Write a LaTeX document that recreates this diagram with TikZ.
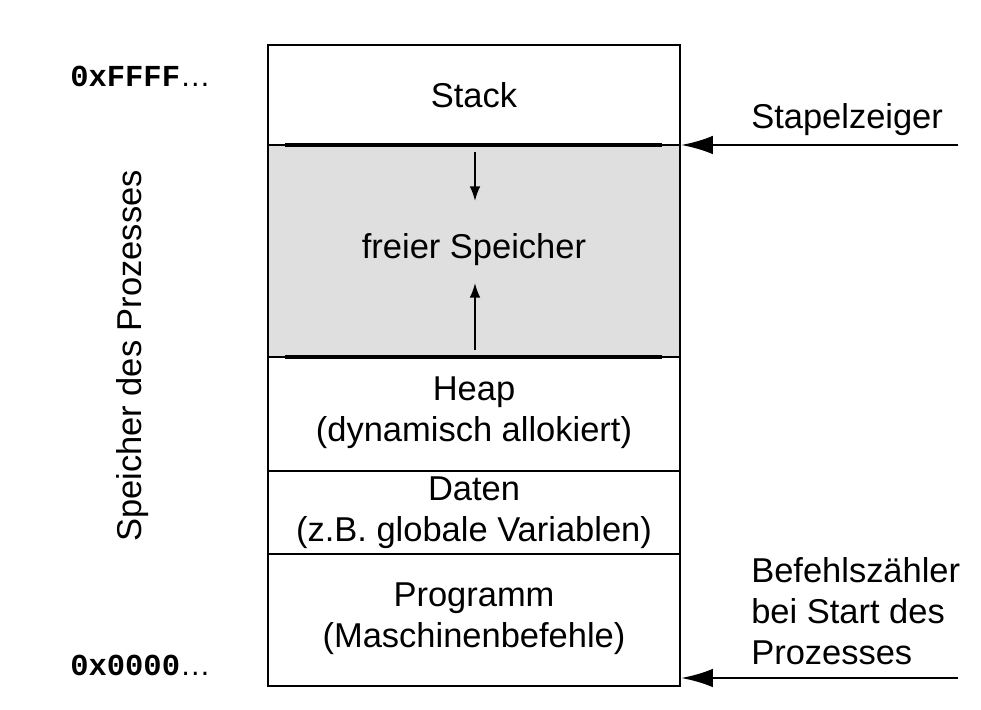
\documentclass[tikz,border=0pt]{standalone}
\usepackage{fontspec}
\usetikzlibrary{arrows.meta}
\setmainfont{Liberation Sans}
\setmonofont{Liberation Mono}
\begin{document}
\begin{tikzpicture}[x=0.0265cm,y=-0.0265cm,
  lbl/.style={font=\fontsize{26}{31}\selectfont, align=left, inner sep=0pt},
  ctr/.style={font=\fontsize{26}{31}\selectfont, align=center, inner sep=0pt},
  addr/.style={font=\fontsize{23}{27}\selectfont\ttfamily\bfseries, anchor=west, inner sep=0pt},
  thick line/.style={line width=3pt},
  arr/.style={-{Latex[length=24pt,width=14pt]}, line width=2.2pt},
  small arr/.style={-{Latex[length=11pt,width=8pt]}, line width=1.3pt}]
\useasboundingbox (0,0) rectangle (981,710);
\fill[gray!25] (268,145) rectangle (680,357);
\draw[line width=1.7pt] (268,45) rectangle (680,686);
\draw[line width=1.2pt] (268,145) -- (680,145);
\draw[line width=1.2pt] (268,357) -- (680,357);
\draw[line width=1.7pt] (268,471) -- (680,471);
\draw[line width=1.2pt] (268,554) -- (680,554);
\draw[thick line] (285,145) -- (662,145);
\draw[thick line] (285,357) -- (662,357);
\node[ctr] (stack) at (474,95) {Stack};
\node[ctr] (frei) at (474,250) {freier Speicher};
\coordinate (d1) at (475,152); \coordinate (d2) at (475,201);
\draw[small arr] (d1) -- (d2);
\coordinate (u1) at (475,350); \coordinate (u2) at (475,283);
\draw[small arr] (u1) -- (u2);
\node[ctr] (heap) at (474,413) {Heap\\(dynamisch allokiert)};
\node[ctr] (daten) at (474,513) {Daten\\(z.B. globale Variablen)};
\node[ctr] (prog) at (474,619) {Programm\\(Maschinenbefehle)};
\node[addr] (hi) at (70,76) {0xFFFF\textrm{\normalfont…}};
\node[addr] (lo) at (70,665) {0x0000\textrm{\normalfont…}};
\node[ctr, rotate=90] (sp) at (133,356) {Speicher des Prozesses};
\node[lbl, anchor=west] (sz) at (751,120) {Stapelzeiger};
\coordinate (s1) at (958,145); \coordinate (s2) at (681,145);
\draw[arr] (s1) -- (s2);
\node[lbl, anchor=west] (bz) at (751,611) {Befehlszähler\\bei Start des\\Prozesses};
\coordinate (b1) at (958,678); \coordinate (b2) at (681,678);
\draw[arr] (b1) -- (b2);
\end{tikzpicture}
\end{document}
